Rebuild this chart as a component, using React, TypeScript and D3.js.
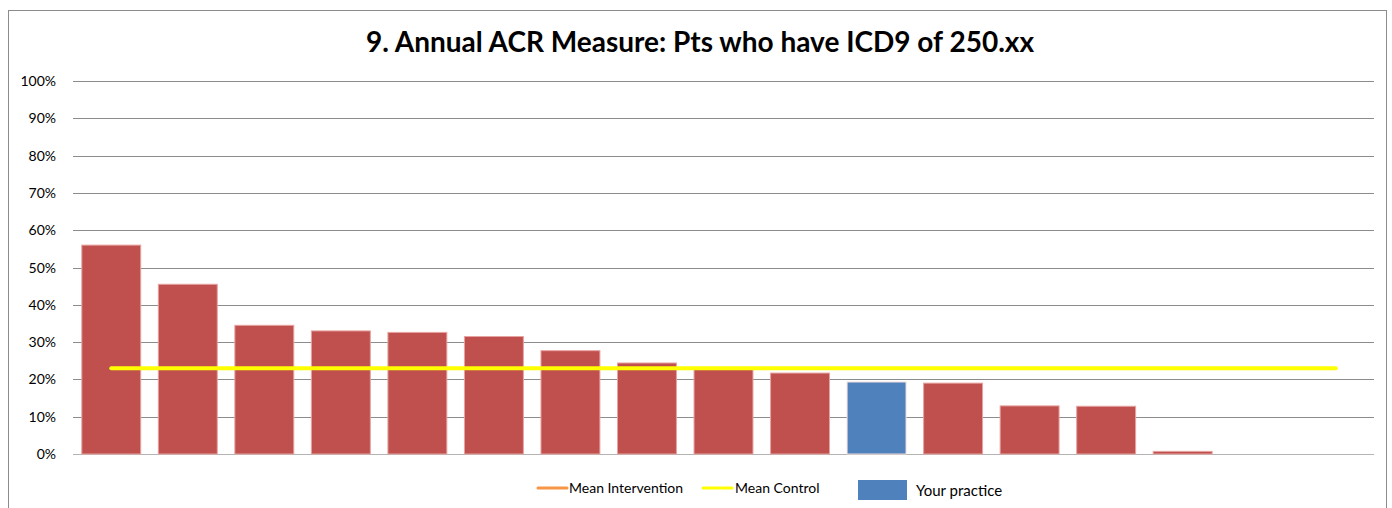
import React from "react";
import * as d3 from "d3";

const categories = ["P1","P2","P3","P4","P5","P6","P7","P8","P9","P10","P11","P12","P13","P14","P15","P16","P17"];
const values: (number | null)[] = [0.56,0.455,0.345,0.33,0.326,0.315,0.277,0.244,0.228,0.217,0.193,0.19,0.129,0.128,0.007,null,null];
const highlight = [false,false,false,false,false,false,false,false,false,false,true,false,false,false,false,false,false];
const meanControl = 0.23;
const yTicks = [0,0.1,0.2,0.3,0.4,0.5,0.6,0.7,0.8,0.9,1.0];
const title = "9. Annual ACR Measure: Pts who have ICD9 of 250.xx";
const legendItems = ["Mean Intervention","Mean Control","Your practice"];

const W = 1392, H = 508;
const plot = { left: 73, right: 1374, top: 81, bottom: 454 };
const font = "Lato, 'Open Sans', sans-serif";

export default function App() {
  const x = d3.scaleBand<string>().domain(categories).range([plot.left, plot.right]).paddingInner(0.23).paddingOuter(0.115);
  const y = d3.scaleLinear().domain([0, 1]).range([plot.bottom, plot.top]);
  const fmt = d3.format(".0%");
  const cx = (c: string) => (x(c) as number) + x.bandwidth() / 2;
  return (
    <svg width={W} height={H} style={{ position: "absolute", left: 0, top: 0, background: "#fff" }}>
      <rect x={8.5} y={10.5} width={1378} height={520} fill="#fff" stroke="#8c8c8c" strokeWidth={1} />
      <text x={700} y={52} textAnchor="middle" fontFamily={font} fontWeight="bold" fontSize={28} fill="#000">{title}</text>
      {yTicks.map((t) => (
        <g key={t}>
          <line x1={plot.left} x2={plot.right} y1={Math.round(y(t)) + 0.5} y2={Math.round(y(t)) + 0.5} stroke={t === 0 ? "#b4b4b4" : "#8c8c8c"} strokeWidth={1} />
          <text x={56} y={y(t) + 5} textAnchor="end" fontFamily={font} fontSize={14} fill="#000">{fmt(t)}</text>
        </g>
      ))}
      {categories.map((c, i) => values[i] == null ? null : (
        <rect key={c} x={x(c)} y={y(values[i] as number)} width={x.bandwidth()} height={plot.bottom - y(values[i] as number)}
          fill={highlight[i] ? "#4F81BD" : "#C0504D"} stroke={highlight[i] ? "#f2dcdb" : "#e6a3a1"} strokeWidth={1} />
      ))}
      <line x1={cx(categories[0])} x2={cx(categories[categories.length - 1])} y1={y(meanControl)} y2={y(meanControl)}
        stroke="#FFFF00" strokeWidth={4} strokeLinecap="round" />
      <line x1={538} x2={567} y1={488} y2={488} stroke="#F79646" strokeWidth={3} strokeLinecap="round" />
      <text x={569} y={493} fontFamily={font} fontSize={14} fill="#000">{legendItems[0]}</text>
      <line x1={703} x2={732} y1={488} y2={488} stroke="#FFFF00" strokeWidth={3} strokeLinecap="round" />
      <text x={735} y={493} fontFamily={font} fontSize={14} fill="#000">{legendItems[1]}</text>
      <rect x={858} y={480} width={49} height={20} fill="#4F81BD" />
      <text x={916} y={496} fontFamily={font} fontSize={15} fill="#000">{legendItems[2]}</text>
    </svg>
  );
}
